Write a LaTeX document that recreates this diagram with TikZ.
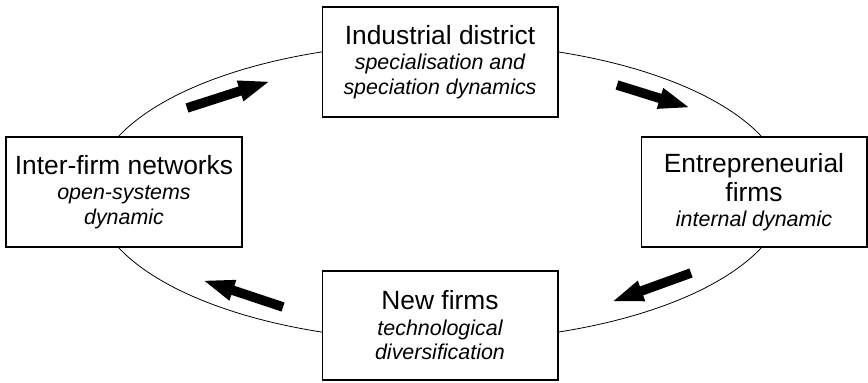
\documentclass[tikz,border=0pt]{standalone}
\usepackage{fontspec}
\setmainfont{Liberation Sans}
\usetikzlibrary{arrows.meta}
\tikzset{>=stealth}
\tikzset{
    box/.style={draw, fill=white, line width=0.6pt, minimum width=4.72cm, minimum height=2.2cm,
        align=center, inner sep=0pt, font=\fontsize{12.2}{14}\selectfont\itshape},
    bigarrow/.style={line width=0.19cm, -{Triangle[length=0.65cm,width=0.38cm]}}
}
\newcommand{\boxtitle}[1]{{\fontsize{15}{14}\selectfont\upshape #1}}

\begin{document}
\begin{tikzpicture}[x=0.02cm, y=-0.02cm]
    \useasboundingbox (0,0) rectangle (868,382);
    \draw [line width=0.45pt] (440,192) ellipse [x radius=6.93cm, y radius=2.98cm];
    % the four stages
    \node [box] (district) at (440,62) {\boxtitle{Industrial district}\\[0.5pt] specialisation and\\ speciation dynamics};
    \node [box, minimum width=4.52cm] (entre) at (754,192) {\boxtitle{Entrepreneurial}\\[3pt] \boxtitle{firms}\\ internal dynamic};
    \node [box, minimum height=2.18cm] (newfirms) at (440,325.5) {\boxtitle{New firms}\\[0.5pt] technological\\ diversification};
    \node [box] (inter) at (124,192) {\boxtitle{Inter-firm networks}\\[0.5pt] open-systems\\ dynamic};
    % arrows round the cycle
    \coordinate (a1s) at (187,108); \coordinate (a1e) at (271,81);
    \coordinate (a2s) at (617,85);  \coordinate (a2e) at (691,108);
    \coordinate (a3s) at (691,273); \coordinate (a3e) at (611,302);
    \coordinate (a4s) at (283,307); \coordinate (a4e) at (202,280);
    \draw [bigarrow] (a1s) -- (a1e);
    \draw [bigarrow] (a2s) -- (a2e);
    \draw [bigarrow] (a3s) -- (a3e);
    \draw [bigarrow] (a4s) -- (a4e);
\end{tikzpicture}
\end{document}
